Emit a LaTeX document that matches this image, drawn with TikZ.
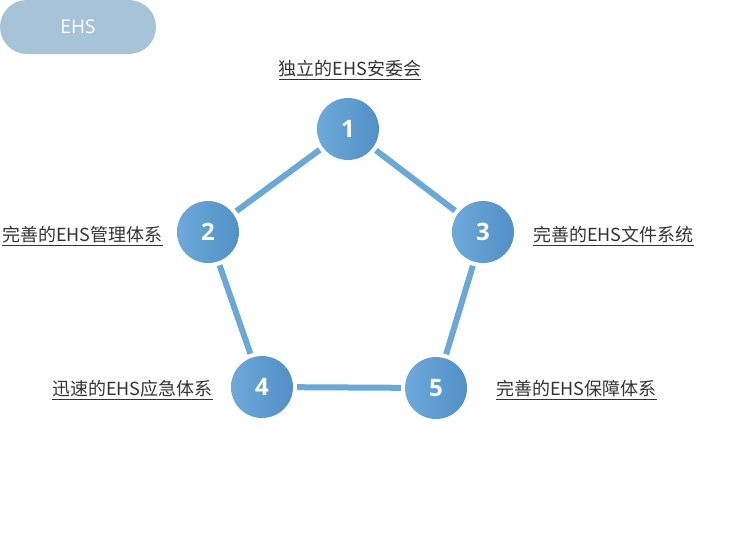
\documentclass[tikz,border=0pt]{standalone}
\usepackage{fontspec}
\setmainfont{Open Sans}
\newfontfamily\cjk{Noto Sans CJK SC}
\newfontfamily\numfont{Open Sans}[UprightFont=* Bold]
\definecolor{pill}{HTML}{A7C3D8}
\definecolor{linec}{HTML}{6AA8D8}
\definecolor{cl}{HTML}{6DAADA}
\definecolor{cr}{HTML}{5190C6}
\definecolor{txt}{HTML}{333333}
\begin{document}
\begin{tikzpicture}[x=1pt,y=-1pt,
  numc/.style={circle,minimum size=62pt,inner sep=0pt,left color=cl,right color=cr,text=white,font=\numfont\fontsize{24}{24}\selectfont},
  lbl/.style={text=txt,font=\cjk\fontsize{18}{20}\selectfont,inner sep=0pt},
  conn/.style={draw=linec,line width=6pt,shorten >=4pt,shorten <=4pt}]
\useasboundingbox (0,0) rectangle (731,555);
\node[fill=pill,rounded corners=27pt,minimum width=156pt,minimum height=54pt,inner sep=0pt,text=white,font=\fontsize{19}{19}\selectfont] (ehs) at (78,27) {EHS};
\node[numc] (n1) at (348,129) {1};
\node[numc] (n2) at (208,232) {2};
\node[numc] (n3) at (483,232) {3};
\node[numc] (n4) at (262,387) {4};
\node[numc] (n5) at (436,388) {5};
\draw[conn] (n1) -- (n2);
\draw[conn] (n1) -- (n3);
\draw[conn] (n2) -- (n4);
\draw[conn] (n3) -- (n5);
\draw[conn] (n4) -- (n5);
\node[lbl] (l1) at (350,70) {\underline{独立的EHS安委会}};
\node[lbl,anchor=west] (l2) at (2,236) {\underline{完善的EHS管理体系}};
\node[lbl,anchor=west] (l3) at (533,236) {\underline{完善的EHS文件系统}};
\node[lbl,anchor=west] (l4) at (52,390) {\underline{迅速的EHS应急体系}};
\node[lbl,anchor=west] (l5) at (496,390) {\underline{完善的EHS保障体系}};
\end{tikzpicture}
\end{document}
